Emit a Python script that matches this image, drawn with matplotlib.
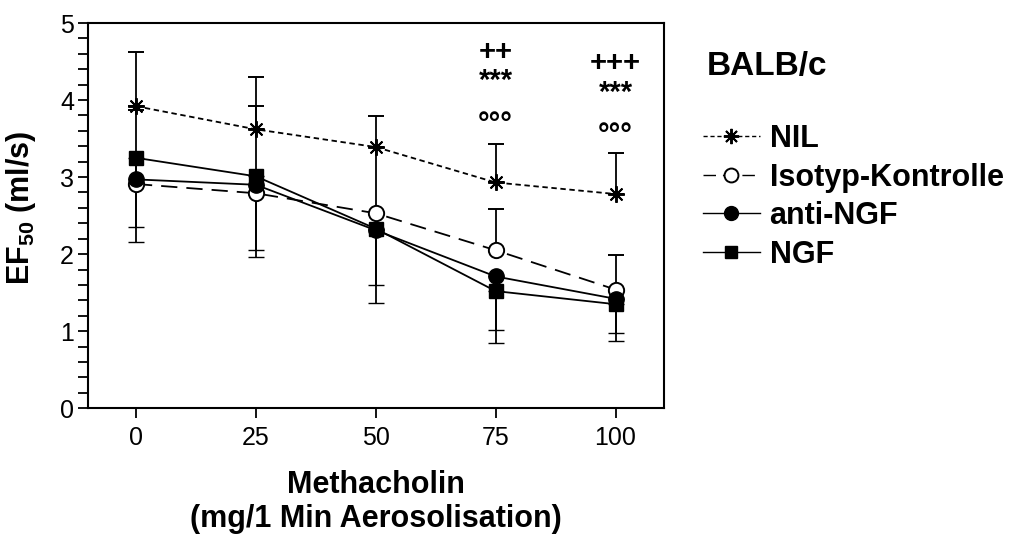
import numpy as np
import matplotlib
matplotlib.use("Agg")
import matplotlib.pyplot as plt
from matplotlib.lines import Line2D

plt.rcParams["font.family"] = ["Liberation Sans", "DejaVu Sans"]
plt.rcParams["mathtext.fontset"] = "custom"
plt.rcParams["mathtext.rm"] = "Liberation Sans:bold"
plt.rcParams["mathtext.default"] = "rm"

# ── data ────────────────────────────────────────────────────────────────
dose = [0, 25, 50, 75, 100]

nil_mean = [3.92, 3.62, 3.39, 2.93, 2.78]
nil_err = [0.71, 0.68, 0.40, 0.50, 0.53]        # drawn upwards

iso_mean = [2.91, 2.79, 2.53, 2.05, 1.54]
iso_err = [0.96, 1.13, 0.86, 0.54, 0.45]        # drawn upwards

anti_mean = [2.97, 2.90, 2.31, 1.71, 1.42]
anti_err = [0.81, 0.94, 0.95, 0.86, 0.55]       # drawn downwards

ngf_mean = [3.25, 3.01, 2.33, 1.52, 1.35]
ngf_err = [0.90, 0.95, 0.73, 0.50, 0.38]        # drawn downwards

# significance marks
sig_x = [75, 75, 75, 100, 100, 100]
sig_y = [4.63, 4.25, 3.80, 4.48, 4.09, 3.65]
sig_txt = ["++", "***", "°°°", "+++", "***", "°°°"]

# ── plot ────────────────────────────────────────────────────────────────
fig = plt.figure(figsize=(10.15, 5.35), dpi=100)
ax = fig.add_axes([0.0867, 0.237, 0.567, 0.72])

zeros = np.zeros(len(dose))
eb = dict(ecolor="black", elinewidth=1.3, capsize=6, capthick=1.3)

series = [
    ("NIL", nil_mean, [zeros, nil_err], dict(marker=(8, 2, 0), ms=12, mfc="black",
                                              mew=1.4, ls=(0, (3, 2)))),
    ("Isotyp-Kontrolle", iso_mean, [zeros, iso_err], dict(marker="o", ms=11, mfc="white",
                                                          mew=1.4, ls=(0, (9, 5)))),
    ("anti-NGF", anti_mean, [anti_err, zeros], dict(marker="o", ms=11, mfc="black",
                                                    mew=1.0, ls="-")),
    ("NGF", ngf_mean, [ngf_err, zeros], dict(marker="s", ms=10, mfc="black",
                                              mew=1.0, ls="-")),
]

handles = []
for label, mean, err, st in series:
    ax.errorbar(dose, mean, yerr=err, color="black", lw=1.3, mec="black",
                zorder=3, **eb, **st)
    hst = dict(st)
    hst["ms"] = st["ms"] - 1
    handles.append(Line2D([], [], color="black", lw=1.0, mec="black", label=label, **hst))

for x, y, t in zip(sig_x, sig_y, sig_txt):
    dy = -0.12 if t.startswith("°") else 0
    ax.text(x, y + dy, t, ha="center", va="center", fontsize=21, fontweight="bold")

ax.set_xlim(-10, 110)
ax.set_ylim(0, 5)
ax.set_xticks(dose)
ax.set_yticks(range(6))
ax.set_yticks(np.arange(0, 5.01, 0.2), minor=True)
ax.tick_params(axis="both", which="major", direction="out", length=7, width=1.3,
               labelsize=18, pad=6)
ax.tick_params(axis="y", which="minor", direction="out", length=7, width=1.3)
ax.tick_params(axis="y", which="major", pad=3)
for sp in ax.spines.values():
    sp.set_linewidth(1.5)

ax.set_ylabel("EF$_{50}$ (ml/s)", fontsize=22, fontweight="bold")
ax.yaxis.set_label_coords(-0.087, 0.52)
ax.set_xlabel("Methacholin\n(mg/1 Min Aerosolisation)", fontsize=22,
              fontweight="bold", labelpad=14, linespacing=1.17)

fig.text(707 / 1015, 1 - 67 / 535, "BALB/c", fontsize=24, fontweight="bold",
         ha="left", va="center")
leg = ax.legend(handles=handles, loc="upper left",
                bbox_to_anchor=(703 / 1015, 1 - 124 / 535),
                bbox_transform=fig.transFigure, frameon=False,
                prop=dict(size=22, weight="bold"), handlelength=1.85,
                handletextpad=0.33, labelspacing=0.28, borderpad=0,
                borderaxespad=0)

fig.savefig("out.png", dpi=100)
